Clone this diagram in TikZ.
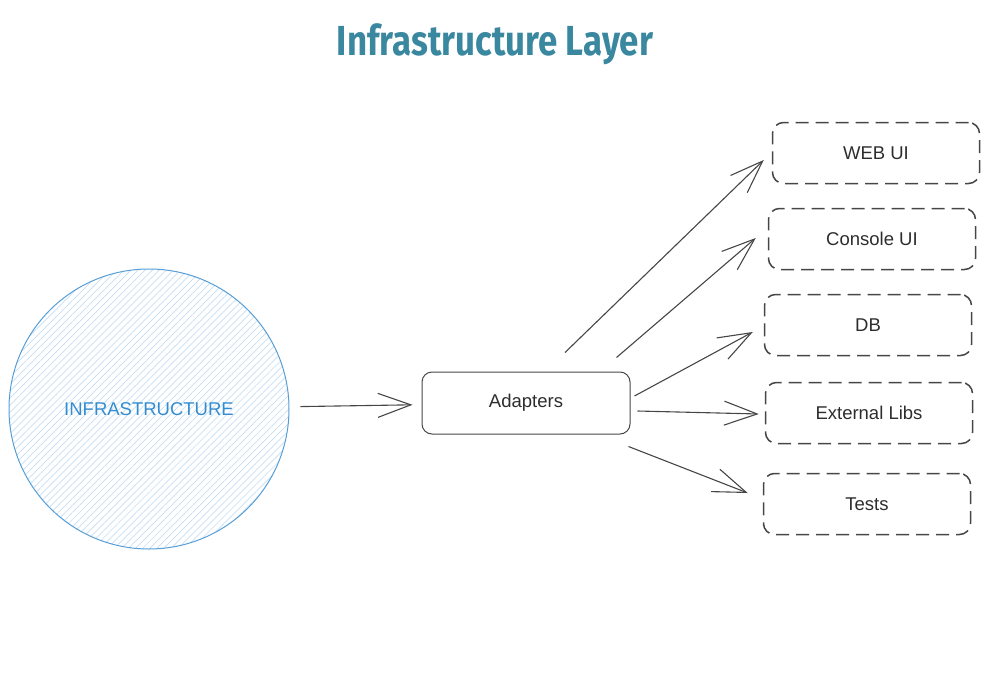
\documentclass[tikz,border=0pt]{standalone}
\usepackage{fontspec}
\setmainfont{Liberation Sans}
\newfontfamily\titlefont[FakeStretch=0.83]{Fira Sans}
\usetikzlibrary{arrows.meta,patterns.meta}

\definecolor{titleblue}{RGB}{58,135,160}
\definecolor{infrablue}{RGB}{88,158,214}
\definecolor{infratext}{RGB}{52,140,208}
\definecolor{hatchblue}{RGB}{196,222,244}
\definecolor{linegray}{RGB}{70,70,70}
\definecolor{textgray}{RGB}{45,45,45}

\tikzset{
  infra/.style={circle, draw=infrablue, line width=1pt, minimum size=280pt,
    pattern={Lines[angle=45,distance=5pt,line width=0.7pt]}, pattern color=hatchblue,
    text=infratext, font=\fontsize{18.5}{20}\selectfont},
  adapterbox/.style={draw=linegray, line width=1pt, rounded corners=10pt,
    minimum width=208pt, minimum height=62pt, text=textgray,
    font=\fontsize{18.5}{20}\selectfont},
  targetbox/.style={draw=linegray, line width=1.5pt, dash pattern=on 13pt off 7pt,
    rounded corners=11pt, minimum width=207pt, minimum height=61pt, text=textgray,
    font=\fontsize{18.5}{20}\selectfont},
  arr/.style={draw=linegray, line width=1.1pt, -{Straight Barb[length=33pt,width=24pt]}}
}

\begin{document}
\begin{tikzpicture}[x=1pt, y=-1pt]
  \useasboundingbox (0,0) rectangle (997,691);

  \node (title) at (495,44) {\titlefont\bfseries\color{titleblue}\fontsize{42}{46}\selectfont Infrastructure Layer};

  \node[infra] (infra) at (149,409) {INFRASTRUCTURE};
  \node[adapterbox] (adapters) at (526,403) {Adapters};

  \node[targetbox] (web)     at (876,153) {WEB UI};
  \node[targetbox] (console) at (872,239) {Console UI};
  \node[targetbox] (db)      at (868,325) {DB};
  \node[targetbox] (libs)    at (869,413) {External Libs};
  \node[targetbox] (tests)   at (867,504) {Tests};

  \draw[arr, shorten <=11pt, shorten >=9pt] (infra) -- (adapters);

  \draw[arr] ([shift={(39,-19)}]adapters.north) -- ([shift={(-8,7)}]web.west);
  \draw[arr] ([shift={(-14,-14)}]adapters.north east) -- ([shift={(-12,-1)}]console.west);
  \draw[arr] ([shift={(4,-7)}]adapters.east) -- ([shift={(-11,7)}]db.west);
  \draw[arr] ([shift={(7,8)}]adapters.east) -- ([shift={(-6,1)}]libs.west);
  \draw[arr] ([shift={(-2,12)}]adapters.south east) -- ([shift={(-15,-11)}]tests.west);
\end{tikzpicture}
\end{document}
